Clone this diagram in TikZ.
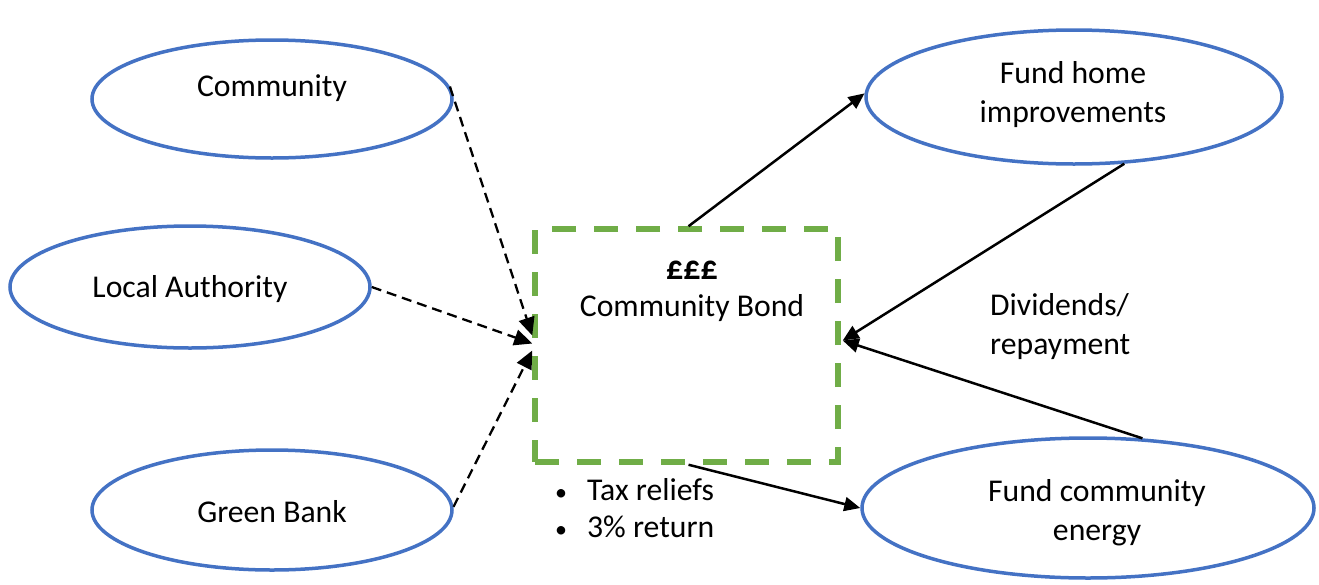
\documentclass[tikz,border=0pt]{standalone}
\usepackage{fontspec}
\setmainfont{Carlito}
\usetikzlibrary{shapes.geometric,arrows.meta}
\definecolor{eblue}{RGB}{68,114,196}
\definecolor{bgreen}{RGB}{112,173,71}
\begin{document}
\begin{tikzpicture}[x=1pt,y=-1pt,
  every node/.style={font=\fontsize{31.7}{39}\selectfont},
  oval/.style={ellipse,draw=eblue,line width=3.5pt,inner sep=0pt,fill=white},
  bondbox/.style={draw=bgreen,line width=5.5pt,dash pattern=on 24pt off 18pt,minimum width=303pt,minimum height=233pt,inner sep=0pt},
  txt/.style={align=center,inner sep=0pt},
  flow/.style={line width=2.5pt,-{Triangle[length=16pt,width=14pt]}},
  feed/.style={line width=2.3pt,dash pattern=on 10pt off 6pt,-{Triangle[length=18pt,width=16pt]}}]
\useasboundingbox (0,0) rectangle (1319,584);
\node[oval,minimum width=360pt,minimum height=118pt] (comm) at (272,99) {};
\node[oval,minimum width=360pt,minimum height=122pt] (la) at (190,287) {};
\node[oval,minimum width=360pt,minimum height=120pt] (gb) at (272,510) {};
\node[oval,minimum width=416pt,minimum height=134pt] (fh) at (1074,97) {};
\node[oval,minimum width=452pt,minimum height=140pt] (fe) at (1088,508) {};
\node[bondbox] (bond) at (686.5,345.5) {};
\node[txt] (tcomm) at (272,88) {Community};
\node[txt] (tla) at (190,289) {Local Authority};
\node[txt] (tgb) at (272,512) {Green Bank};
\node[txt] (tfh) at (1073,95) {Fund home\\improvements};
\node[txt] (tfe) at (1097,513) {Fund community\\energy};
\node[txt] (tpound) at (692,270) {\fontsize{34}{39}\selectfont\textbf{£££}};
\node[txt] (tbond) at (692,308) {Community Bond};
\node[txt,align=left,anchor=west] (tdiv) at (990,327) {Dividends/\\repayment};
\node[inner sep=0pt,anchor=west] (tbul) at (555,512) {\fontsize{31.7}{36}\selectfont\begin{tabular}{@{}l@{\hspace{20pt}}l@{}}{\fontsize{24}{24}\selectfont\textbullet} & Tax reliefs\\[1pt] {\fontsize{24}{24}\selectfont\textbullet} & 3\% return\end{tabular}};
\draw[feed] (comm.4.5) -- ([yshift=10pt]bond.west);
\draw[feed] (la.0) -- ([yshift=2pt]bond.west);
\draw[feed] (gb.1) -- ([yshift=-5pt]bond.west);
\draw[flow] ([xshift=2pt]bond.north) -- (fh.179);
\draw[flow] (fh.-53) -- ([yshift=5pt,xshift=2pt]bond.east);
\draw[flow] (fe.52) -- ([yshift=5pt,xshift=2pt]bond.east);
\draw[flow] ([xshift=2pt]bond.south) -- (fe.180);
\end{tikzpicture}
\end{document}
